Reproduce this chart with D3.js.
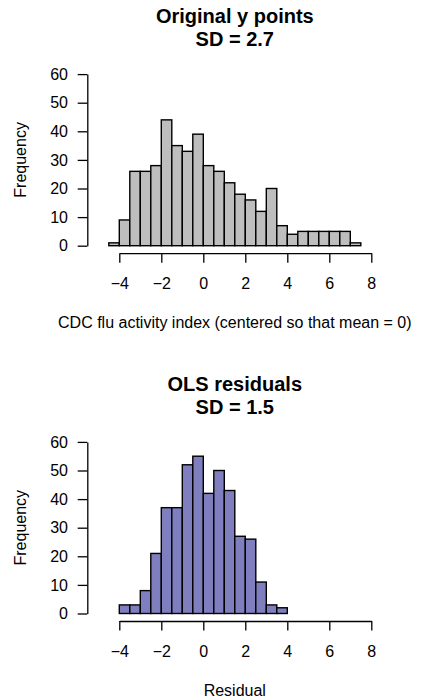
<!DOCTYPE html>
<html>
<head>
  <meta charset="utf-8">
  <style>
    body { margin: 0; background: #fff; }
    svg text { font-family: "Liberation Sans", Arial, Helvetica, sans-serif; fill: #000; }
  </style>
</head>
<body>
  <script src="https://d3js.org/d3.v7.min.js"></script>
  <script>
    // bin start (left edge) of each 0.5-wide bin
    const binStarts = [-5, -4.5, -4, -3.5, -3, -2.5, -2, -1.5, -1, -0.5, 0, 0.5, 1,
      1.5, 2, 2.5, 3, 3.5, 4, 4.5, 5, 5.5, 6, 6.5, 7, 7.5];
    const binWidth = 0.5;

    // counts
    const originalCounts = [0, 1, 9, 26, 26, 28, 44, 35, 33, 39, 28, 26, 22, 18,
      16, 12, 20, 7, 4, 5, 5, 5, 5, 5, 1, 0];
    const residualCounts = [0, 0, 3, 3, 8, 21, 37, 37, 52, 55, 42, 50, 43, 27,
      26, 11, 3, 2, 0, 0, 0, 0, 0, 0, 0, 0];

    const xTicks = [-4, -2, 0, 2, 4, 6, 8];
    const yTicks = [0, 10, 20, 30, 40, 50, 60];

    const panels = [
      { title: "Original y points", sd: "SD = 2.7", counts: originalCounts,
        xlab: "CDC flu activity index (centered so that mean = 0)", fill: "#bebebe", y0: 245.7 },
      { title: "OLS residuals", sd: "SD = 1.5", counts: residualCounts,
        xlab: "Residual", fill: "#7f7fbf", y0: 613.5 }
    ];

    const w = 423;
    const h = 700;

    const svg = d3.select("body")
      .append("svg")
      .attr("width", w)
      .attr("height", h);

    const x = d3.scaleLinear()
      .domain([-4, 8])
      .range([119.3, 371.3]);
    const axisLeftX = 87.3;
    const midX = 234.8;

    panels.forEach((p) => {
      const y = d3.scaleLinear()
        .domain([0, 60])
        .range([p.y0, p.y0 - 171.6]);
      const axisY = p.y0 + 7.5;
      const top = p.y0 - 245.7;

      const g = svg.append("g");

      // bars
      g.selectAll("rect")
        .data(binStarts.map((b, i) => ({ x0: b, n: p.counts[i] })))
        .enter()
        .append("rect")
        .attr("x", (d) => x(d.x0))
        .attr("y", (d) => y(d.n))
        .attr("width", (d) => x(d.x0 + binWidth) - x(d.x0))
        .attr("height", (d) => y(0) - y(d.n))
        .attr("fill", p.fill)
        .attr("stroke", "#000")
        .attr("stroke-width", 1.4);

      // x axis
      const xAxis = d3.axisBottom(x)
        .tickValues(xTicks)
        .tickSize(9.6)
        .tickSizeOuter(0)
        .tickPadding(15.3);
      const gx = g.append("g")
        .attr("transform", "translate(0," + axisY + ")")
        .call(xAxis);

      // y axis
      const yAxis = d3.axisLeft(y)
        .tickValues(yTicks)
        .tickSize(9.6)
        .tickSizeOuter(0)
        .tickPadding(9.7);
      const gy = g.append("g")
        .attr("transform", "translate(" + axisLeftX + ",0)")
        .call(yAxis);

      [gx, gy].forEach((a) => {
        a.attr("font-size", 16).attr("font-family", null);
        a.selectAll("path, line").attr("stroke", "#000").attr("stroke-width", 1.3);
        a.selectAll("text").attr("fill", "#000");
      });

      // titles
      g.append("text")
        .attr("x", midX)
        .attr("y", top + 23)
        .attr("text-anchor", "middle")
        .attr("font-size", 20)
        .attr("font-weight", "bold")
        .text(p.title);
      g.append("text")
        .attr("x", midX)
        .attr("y", top + 46)
        .attr("text-anchor", "middle")
        .attr("font-size", 20)
        .attr("font-weight", "bold")
        .text(p.sd);

      // axis labels
      g.append("text")
        .attr("x", midX)
        .attr("y", axisY + 74.5)
        .attr("text-anchor", "middle")
        .attr("font-size", 16)
        .text(p.xlab);
      g.append("text")
        .attr("transform", "translate(26," + y(30) + ") rotate(-90)")
        .attr("text-anchor", "middle")
        .attr("font-size", 16)
        .attr("fill", "#000")
        .text("Frequency");
    });
  </script>
</body>
</html>
